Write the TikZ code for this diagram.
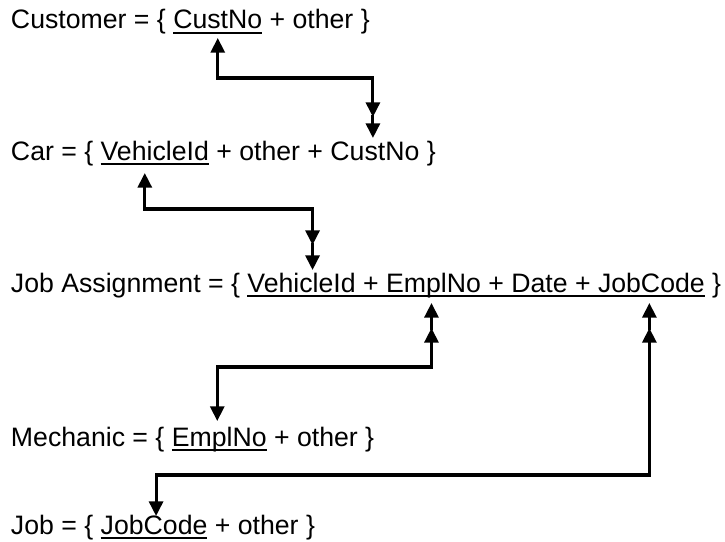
\documentclass[tikz,border=0pt]{standalone}
\usepackage{fontspec}
\setmainfont{Liberation Sans}
\usetikzlibrary{arrows.meta,calc}
\begin{document}
\begin{tikzpicture}[x=0.75pt,y=-0.75pt,
  txt/.style={anchor=base west,inner sep=0pt,outer sep=0pt,font=\fontsize{20}{24}\selectfont},
  ul/.style={line width=1.3pt},
  link/.style={line width=2.3pt,>={Triangle[length=11pt,width=10.5pt]}}]
\useasboundingbox (0,0) rectangle (725,542);

% Customer
\node[txt] (cu0) at (11,29) {Customer = \{\ \null};
\node[txt] (cuK) at (cu0.base east) {CustNo};
\node[txt] (cu1) at (cuK.base east) {\ + other \}};
\draw[ul] ($(cuK.base west)+(0,4)$) -- ($(cuK.base east)+(0,4)$);

% Car
\node[txt] (ca0) at (11,160) {Car = \{\ \null};
\node[txt] (caK) at (ca0.base east) {VehicleId};
\node[txt] (ca1) at (caK.base east) {\ + other +\ \null};
\node[txt] (caC) at (ca1.base east) {CustNo};
\node[txt] (ca2) at (caC.base east) {\ \}};
\draw[ul] ($(caK.base west)+(0,4)$) -- ($(caK.base east)+(0,4)$);

% Job Assignment
\node[txt] (ja0) at (11,292) {Job Assignment = \{\ \null};
\node[txt] (jaV) at (ja0.base east) {VehicleId};
\node[txt] (ja1) at (jaV.base east) {\ +\ \null};
\node[txt] (jaE) at (ja1.base east) {EmplNo};
\node[txt] (ja2) at (jaE.base east) {\ + Date +\ \null};
\node[txt] (jaJ) at (ja2.base east) {JobCode};
\node[txt] (ja3) at (jaJ.base east) {\ \}};
\draw[ul] ($(jaV.base west)+(0,4)$) -- ($(jaJ.base east)+(0,4)$);

% Mechanic
\node[txt] (me0) at (11,446) {Mechanic = \{\ \null};
\node[txt] (meE) at (me0.base east) {EmplNo};
\node[txt] (me1) at (meE.base east) {\ + other \}};
\draw[ul] ($(meE.base west)+(0,4)$) -- ($(meE.base east)+(0,4)$);

% Job
\node[txt] (jo0) at (11,534) {Job = \{\ \null};
\node[txt] (joJ) at (jo0.base east) {JobCode};
\node[txt] (jo1) at (joJ.base east) {\ + other \}};
\draw[ul] ($(joJ.base west)+(0,4)$) -- ($(joJ.base east)+(0,4)$);

% connector points
\coordinate (a1) at ($(cuK.base)+(0,9)$);
\coordinate (m1) at ($(caC.base)+(-2,-43)$);
\coordinate (e1) at ($(caC.base)+(-2,-22)$);

\coordinate (a2) at ($(caK.base)+(-10,13)$);
\coordinate (m2) at ($(jaV.base)+(11,-47)$);
\coordinate (e2) at ($(jaV.base)+(11,-22)$);

\coordinate (a3) at ($(meE.base)+(-2,-25)$);
\coordinate (m3) at ($(jaE.base)+(-2,36)$);
\coordinate (e3) at ($(jaE.base)+(-2,11)$);

\coordinate (a4) at ($(joJ.base)+(2,-18)$);
\coordinate (m4) at ($(jaJ.base)+(-2,36)$);
\coordinate (e4) at ($(jaJ.base)+(-2,11)$);

% connectors
\draw[link,<->] (a1) -- ++(0,40) -| (m1);
\draw[link,->] ($(m1)+(0,-2)$) -- (e1);

\draw[link,<->] (a2) -- ++(0,36) -| (m2);
\draw[link,->] ($(m2)+(0,-2)$) -- (e2);

\draw[link,<->] (a3) -- ++(0,-54) -| (m3);
\draw[link,->] ($(m3)+(0,2)$) -- (e3);

\draw[link,<->] (a4) -- ++(0,-41) -| (m4);
\draw[link,->] ($(m4)+(0,2)$) -- (e4);
\end{tikzpicture}
\end{document}
